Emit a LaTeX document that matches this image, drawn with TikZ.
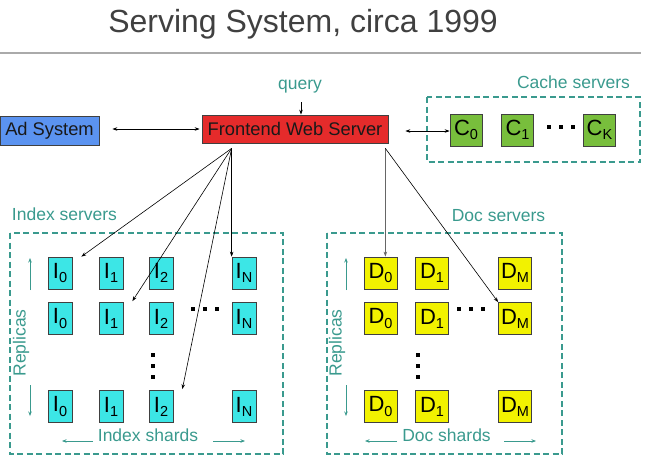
\documentclass[tikz,border=0pt]{standalone}
\usepackage{fontspec}
\setmainfont{Liberation Sans}
\usetikzlibrary{arrows.meta,calc}
\definecolor{teal1}{HTML}{3A9A8E}
\definecolor{titlegray}{HTML}{404040}
\definecolor{rulegray}{HTML}{AAAAAA}
\definecolor{red1}{HTML}{E52B2B}
\definecolor{blue1}{HTML}{5B93F0}
\definecolor{green1}{HTML}{78BE3C}
\definecolor{cyan1}{HTML}{3CE6E6}
\definecolor{yellow1}{HTML}{F2F200}
\newcommand{\mysub}[1]{\raisebox{-0.35ex}{\fontsize{14.5}{14.5}\selectfont #1}}
\begin{document}
\begin{tikzpicture}[x=1pt,y=-1pt,
  srv/.style={draw=black!75, line width=0.7pt, inner sep=0pt, font=\fontsize{22}{24}\selectfont, text=black},
  ibox/.style={srv, fill=cyan1, minimum width=24pt, minimum height=32pt},
  dbox/.style={srv, fill=yellow1, minimum width=33pt, minimum height=32pt},
  cbox/.style={srv, fill=green1, minimum width=32pt, minimum height=32pt},
  bigbox/.style={draw=black!75, line width=0.7pt, inner sep=0pt, font=\fontsize{18.3}{20}\selectfont, text=black!90},
  lbl/.style={text=teal1, font=\fontsize{17.5}{20}\selectfont, anchor=base, inner sep=0pt},
  grp/.style={draw=teal1, line width=1.3pt, dash pattern=on 6pt off 3.5pt},
  conn/.style={line width=0.6pt, -{Stealth[length=5pt,width=3.5pt]}},
  dconn/.style={line width=0.6pt, {Stealth[length=5pt,width=3.5pt]}-{Stealth[length=5pt,width=3.5pt]}},
  tarr/.style={teal1, line width=0.7pt, -{Stealth[length=4.5pt,width=3.5pt]}},
  dotsq/.style={fill=black}
]
\useasboundingbox (0,0) rectangle (647,475);

% title and rule
\node[font=\fontsize{32}{36}\selectfont, text=titlegray, anchor=base, inner sep=0pt] (title) at (303,32) {Serving System, circa 1999};
\draw[rulegray, line width=1.5pt] (0,53) -- (641,53);

% group frames
\draw[grp] (427,97) rectangle (640,162);
\draw[grp] (10,233) rectangle (283,454);
\draw[grp] (327,233) rectangle (562,454);

% labels
\node[lbl] (q) at (300,89) {query};
\node[lbl] (cachel) at (573.5,88) {Cache servers};
\node[lbl] (indexl) at (64.5,220) {Index servers};
\node[lbl] (docl) at (498.5,221) {Doc servers};
\node[lbl] (ishl) at (148,441) {Index shards};
\node[lbl] (dshl) at (446.5,441) {Doc shards};
\node[lbl, rotate=90, anchor=center] (irep) at (21,343) {Replicas};
\node[lbl, rotate=90, anchor=center] (drep) at (337,343) {Replicas};

% main boxes
\node[bigbox, fill=red1, minimum width=186pt, minimum height=28pt] (fe) at (295,129) {Frontend Web Server};
\node[bigbox, fill=blue1, minimum width=99pt, minimum height=29pt] (ad) at (49.5,130.5) {Ad System};

% cache servers
\node[cbox] (c0) at (466,130) {C\mysub{0}};
\node[cbox] (c1) at (517.5,130) {C\mysub{1}};
\node[cbox] (cK) at (599.5,130) {C\mysub{K}};

% index servers
\foreach \r/\y in {1/273,2/318.5,3/406.5}{
  \foreach \c/\x in {0/60,1/111,2/161,N/244}{
    \node[ibox] (i\r\c) at (\x,\y) {I\mysub{\c}};
  }
}
% doc servers
\foreach \r/\y in {1/273,2/318.5,3/406.5}{
  \foreach \c/\x in {0/380.5,1/432,M/515}{
    \node[dbox] (d\r\c) at (\x,\y) {D\mysub{\c}};
  }
}

% dots
\foreach \x in {549,561,573} \fill[dotsq] (\x-2,125) rectangle ++(4,4);
\foreach \x in {193,205,217} \fill[dotsq] (\x-2,307) rectangle ++(4,4);
\foreach \y in {355,366,377} \fill[dotsq] (151,\y-2) rectangle ++(4,4);
\foreach \x in {459,471,483} \fill[dotsq] (\x-2,307) rectangle ++(4,4);
\foreach \y in {355,366,377} \fill[dotsq] (416,\y-2) rectangle ++(4,4);

% connectors
\coordinate (qs) at ($(q.base)+(1,13)$);
\draw[conn] (qs) -- (qs |- fe.north);
\draw[dconn] ($(ad.east)+(13,-1.5)$) -- ($(fe.west)+(-2,0)$);
\draw[dconn] ($(fe.east)+(17,2)$) -- ($(c0.west)+(0,1)$);

\coordinate (f1) at ($(fe.south west)+(30,5)$);
\coordinate (f2) at ($(fe.south east)+(-3,5)$);
\draw[conn] (f1) -- ($(i10.north east)+(9,0)$);
\draw[conn] (f1) -- ($(i21.north east)+(9,-1)$);
\draw[conn] (f1) -- ($(i32.north east)+(9,-1)$);
\draw[conn] (f1) -- (i1N.north west);
\draw[conn, draw=black!60, line width=0.9pt] (f2) -- (f2 |- d10.north);
\draw[conn] (f2) -- (d2M.north west);

% replica / shard arrows
\draw[tarr] (30,290) -- (30,258);
\draw[tarr] (30,385) -- (30,416);
\draw[tarr] (346,290) -- (346,258);
\draw[tarr] (346,385) -- (346,416);
\draw[tarr] (93,441) -- (62,441);
\draw[tarr] (213,441) -- (245,441);
\draw[tarr] (397,441) -- (365,441);
\draw[tarr] (504,441) -- (536,441);
\end{tikzpicture}
\end{document}
